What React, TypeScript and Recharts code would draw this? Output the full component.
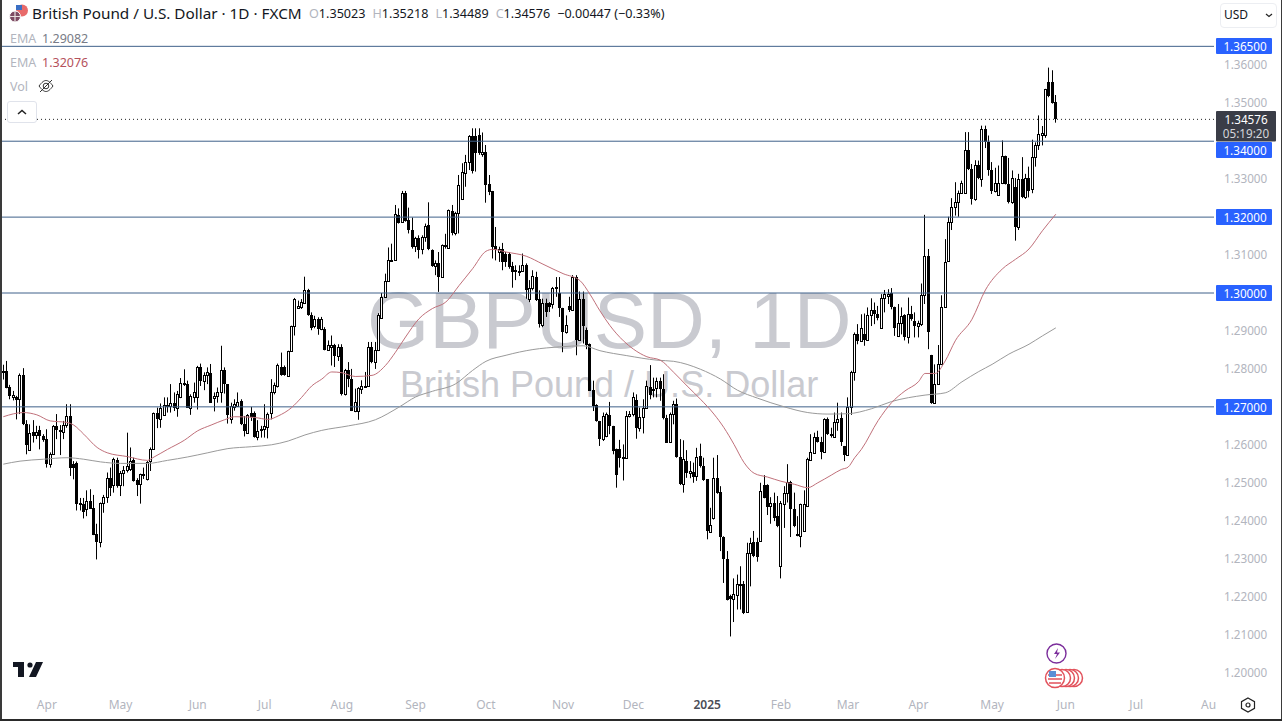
import React from 'react';
import { ComposedChart, Bar, Line, XAxis, YAxis, ReferenceLine } from 'recharts';

const opens = [
1.2795,1.2795,1.2753,1.2727,1.2726,1.2720,1.2784,1.2656,1.2586,1.2633,
1.2627,1.2638,1.2622,1.2615,1.2549,1.2575,1.2649,1.2640,1.2635,1.2652,
1.2675,1.2550,1.2551,1.2443,1.2443,1.2430,1.2452,1.2433,1.2364,1.2344,
1.2446,1.2462,1.2512,1.2494,1.2559,1.2493,1.2527,1.2534,1.2535,1.2559,
1.2506,1.2496,1.2522,1.2509,1.2557,1.2590,1.2683,1.2668,1.2679,1.2703,
1.2703,1.2711,1.2696,1.2726,1.2764,1.2760,1.2698,1.2726,1.2726,1.2804,
1.2767,1.2784,1.2788,1.2723,1.2729,1.2738,1.2798,1.2760,1.2667,1.2700,
1.2703,1.2716,1.2654,1.2632,1.2683,1.2683,1.2621,1.2640,1.2641,1.2648,
1.2683,1.2738,1.2755,1.2806,1.2806,1.2782,1.2848,1.2912,1.2960,1.2964,
1.2974,1.3009,1.2942,1.2912,1.2931,1.2906,1.2906,1.2849,1.2858,1.2862,
1.2833,1.2858,1.2734,1.2796,1.2774,1.2690,1.2690,1.2748,1.2754,1.2756,
1.2858,1.2818,1.2849,1.2935,1.2990,1.3032,1.3086,1.3088,1.3205,1.3188,
1.3264,1.3192,1.3167,1.3123,1.3144,1.3115,1.3148,1.3179,1.3113,1.3071,
1.3079,1.3042,1.3126,1.3119,1.3217,1.3159,1.3211,1.3247,1.3317,1.3346,
1.3415,1.3415,1.3416,1.3365,1.3372,1.3286,1.3269,1.3123,1.3109,1.3115,
1.3104,1.3104,1.3071,1.3060,1.3057,1.3058,1.3073,1.2985,1.3012,1.3041,
1.2985,1.2917,1.2974,1.2974,1.2972,1.3012,1.3000,1.2961,1.2897,1.2965,
1.2956,1.3041,1.2876,1.2984,1.2902,1.2865,1.2744,1.2704,1.2663,1.2615,
1.2624,1.2678,1.2650,1.2588,1.2588,1.2566,1.2566,1.2676,1.2681,1.2718,
1.2645,1.2672,1.2698,1.2753,1.2747,1.2749,1.2769,1.2747,1.2670,1.2608,
1.2681,1.2707,1.2569,1.2498,1.2557,1.2527,1.2528,1.2518,1.2571,1.2544,
1.2509,1.2371,1.2406,1.2512,1.2476,1.2357,1.2300,1.2201,1.2195,1.2205,
1.2230,1.2234,1.2160,1.2314,1.2344,1.2344,1.2346,1.2494,1.2494,1.2439,
1.2447,1.2412,1.2280,1.2445,1.2474,1.2503,1.2430,1.2366,1.2361,1.2373,
1.2439,1.2560,1.2579,1.2621,1.2608,1.2582,1.2667,1.2628,1.2621,1.2659,
1.2670,1.2597,1.2573,1.2700,1.2791,1.2891,1.2874,1.2893,1.2875,1.2942,
1.2955,1.2944,1.2909,1.2988,1.2992,1.3000,1.2964,1.2887,1.2920,1.2942,
1.2884,1.2944,1.2925,1.2913,1.2918,1.2994,1.3098,1.2837,1.2711,1.2761,
1.2812,1.2964,1.3085,1.3186,1.3226,1.3240,1.3263,1.3263,1.3377,1.3327,
1.3248,1.3338,1.3301,1.3433,1.3397,1.3324,1.3268,1.3258,1.3290,1.3360,
1.3287,1.3239,1.3279,1.3173,1.3301,1.3252,1.3303,1.3274,1.3358,1.3391,
1.3417,1.3417,1.3556,1.3556,1.35023];

const closes = [
1.2790,1.2751,1.2729,1.2732,1.2719,1.2784,1.2656,1.2599,1.2632,1.2624,
1.2633,1.2622,1.2612,1.2549,1.2575,1.2650,1.2638,1.2635,1.2652,1.2675,
1.2538,1.2538,1.2443,1.2447,1.2424,1.2452,1.2432,1.2362,1.2344,1.2446,
1.2462,1.2512,1.2485,1.2562,1.2491,1.2527,1.2534,1.2544,1.2557,1.2505,
1.2494,1.2522,1.2524,1.2556,1.2590,1.2683,1.2667,1.2698,1.2704,1.2705,
1.2709,1.2696,1.2733,1.2764,1.2758,1.2698,1.2729,1.2738,1.2804,1.2767,
1.2784,1.2791,1.2711,1.2729,1.2738,1.2798,1.2760,1.2679,1.2703,1.2707,
1.2714,1.2654,1.2637,1.2678,1.2674,1.2621,1.2637,1.2642,1.2650,1.2682,
1.2738,1.2757,1.2811,1.2784,1.2784,1.2848,1.2912,1.2984,1.2966,1.2975,
1.3009,1.2942,1.2909,1.2931,1.2905,1.2931,1.2851,1.2862,1.2862,1.2833,
1.2858,1.2734,1.2796,1.2774,1.2690,1.2712,1.2749,1.2756,1.2756,1.2858,
1.2818,1.2849,1.2941,1.2990,1.3032,1.3086,1.3088,1.3207,1.3185,1.3264,
1.3189,1.3167,1.3122,1.3144,1.3113,1.3148,1.3176,1.3115,1.3071,1.3079,
1.3042,1.3126,1.3121,1.3218,1.3159,1.3211,1.3284,1.3320,1.3346,1.3415,
1.3322,1.3368,1.3368,1.3372,1.3284,1.3267,1.3122,1.3113,1.3115,1.3082,
1.3082,1.3069,1.3056,1.3057,1.3059,1.3073,1.3007,1.3012,1.3044,1.2981,
1.2919,1.2974,1.2950,1.2963,1.3014,1.3016,1.2961,1.2897,1.2915,1.2954,
1.3041,1.2875,1.2984,1.2914,1.2864,1.2742,1.2703,1.2663,1.2615,1.2676,
1.2680,1.2650,1.2584,1.2520,1.2564,1.2568,1.2676,1.2681,1.2725,1.2645,
1.2672,1.2698,1.2754,1.2732,1.2741,1.2769,1.2747,1.2670,1.2606,1.2681,
1.2707,1.2569,1.2496,1.2562,1.2527,1.2530,1.2516,1.2568,1.2544,1.2506,
1.2373,1.2390,1.2512,1.2474,1.2357,1.2300,1.2192,1.2194,1.2207,1.2232,
1.2233,1.2157,1.2314,1.2342,1.2307,1.2304,1.2478,1.2461,1.2436,1.2447,
1.2408,1.2386,1.2447,1.2474,1.2503,1.2430,1.2386,1.2361,1.2443,1.2443,
1.2562,1.2582,1.2621,1.2608,1.2582,1.2667,1.2628,1.2624,1.2659,1.2667,
1.2608,1.2573,1.2700,1.2791,1.2892,1.2874,1.2907,1.2875,1.2942,1.2955,
1.2944,1.2934,1.2988,1.2997,1.2997,1.2962,1.2909,1.2920,1.2940,1.2884,
1.2944,1.2931,1.2913,1.2920,1.2994,1.3098,1.2896,1.2711,1.2761,1.2812,
1.2964,1.3082,1.3186,1.3226,1.3240,1.3263,1.3290,1.3377,1.3327,1.3248,
1.3338,1.3302,1.3433,1.3397,1.3325,1.3268,1.3289,1.3290,1.3360,1.3287,
1.3239,1.3303,1.3173,1.3301,1.3252,1.3303,1.3270,1.3358,1.3391,1.3419,
1.3421,1.3538,1.3518,1.3502,1.34576];

const highs = [
1.2811,1.2821,1.2758,1.2742,1.2729,1.2788,1.2802,1.2665,1.2654,1.2665,
1.2650,1.2650,1.2628,1.2641,1.2580,1.2652,1.2681,1.2652,1.2663,1.2707,
1.2707,1.2557,1.2556,1.2460,1.2460,1.2480,1.2483,1.2468,1.2392,1.2448,
1.2468,1.2527,1.2540,1.2566,1.2566,1.2531,1.2544,1.2632,1.2593,1.2566,
1.2512,1.2524,1.2540,1.2557,1.2593,1.2685,1.2698,1.2709,1.2725,1.2725,
1.2760,1.2738,1.2742,1.2776,1.2799,1.2769,1.2733,1.2764,1.2808,1.2814,
1.2791,1.2804,1.2813,1.2738,1.2751,1.2861,1.2804,1.2760,1.2711,1.2720,
1.2738,1.2720,1.2676,1.2681,1.2700,1.2688,1.2665,1.2650,1.2707,1.2685,
1.2773,1.2764,1.2814,1.2843,1.2809,1.2848,1.2914,1.2987,1.2980,1.2984,
1.3043,1.3011,1.2949,1.2940,1.2936,1.2937,1.2910,1.2875,1.2888,1.2866,
1.2865,1.2865,1.2800,1.2818,1.2800,1.2748,1.2752,1.2770,1.2792,1.2871,
1.2871,1.2871,1.2947,1.3000,1.3051,1.3120,1.3130,1.3232,1.3223,1.3269,
1.3269,1.3225,1.3199,1.3148,1.3152,1.3152,1.3183,1.3239,1.3115,1.3086,
1.3108,1.3128,1.3156,1.3220,1.3232,1.3214,1.3311,1.3342,1.3364,1.3416,
1.3434,1.3434,1.3434,1.3423,1.3390,1.3311,1.3269,1.3174,1.3122,1.3132,
1.3108,1.3108,1.3082,1.3073,1.3073,1.3104,1.3078,1.3034,1.3060,1.3056,
1.3007,1.2985,1.2985,1.2976,1.3016,1.3042,1.3042,1.2961,1.2941,1.2990,
1.3047,1.3047,1.3004,1.3004,1.2909,1.2867,1.2769,1.2707,1.2663,1.2685,
1.2685,1.2713,1.2650,1.2590,1.2613,1.2601,1.2689,1.2689,1.2738,1.2733,
1.2698,1.2720,1.2769,1.2810,1.2777,1.2777,1.2777,1.2786,1.2679,1.2685,
1.2716,1.2722,1.2615,1.2612,1.2586,1.2557,1.2553,1.2592,1.2603,1.2566,
1.2509,1.2434,1.2566,1.2573,1.2491,1.2359,1.2320,1.2205,1.2248,1.2258,
1.2280,1.2241,1.2342,1.2355,1.2373,1.2355,1.2500,1.2520,1.2496,1.2462,
1.2474,1.2465,1.2452,1.2491,1.2549,1.2505,1.2474,1.2412,1.2445,1.2480,
1.2566,1.2628,1.2632,1.2637,1.2621,1.2670,1.2672,1.2645,1.2685,1.2711,
1.2685,1.2597,1.2725,1.2795,1.2896,1.2918,1.2944,1.2946,1.2962,1.2986,
1.2975,1.2966,1.2997,1.3008,1.3010,1.3013,1.2964,1.2971,1.2962,1.2944,
1.2988,1.2966,1.2949,1.2927,1.3025,1.3206,1.3116,1.2837,1.2812,1.2863,
1.2994,1.3142,1.3201,1.3250,1.3292,1.3270,1.3296,1.3424,1.3424,1.3340,
1.3350,1.3349,1.3441,1.3441,1.3415,1.3345,1.3330,1.3336,1.3402,1.3362,
1.3356,1.3323,1.3303,1.3314,1.3358,1.3314,1.3333,1.3404,1.3397,1.3468,
1.3440,1.3538,1.3594,1.3587,1.35218];

const lows = [
1.2772,1.2749,1.2720,1.2717,1.2667,1.2681,1.2652,1.2575,1.2586,1.2606,
1.2615,1.2588,1.2608,1.2540,1.2540,1.2573,1.2615,1.2573,1.2615,1.2645,
1.2518,1.2509,1.2427,1.2427,1.2406,1.2412,1.2431,1.2362,1.2298,1.2330,
1.2421,1.2447,1.2465,1.2474,1.2487,1.2465,1.2491,1.2527,1.2531,1.2503,
1.2465,1.2445,1.2510,1.2506,1.2531,1.2588,1.2644,1.2645,1.2677,1.2685,
1.2685,1.2689,1.2674,1.2723,1.2755,1.2698,1.2679,1.2711,1.2693,1.2755,
1.2744,1.2760,1.2711,1.2688,1.2711,1.2711,1.2735,1.2656,1.2656,1.2690,
1.2700,1.2652,1.2622,1.2630,1.2663,1.2619,1.2612,1.2619,1.2619,1.2617,
1.2667,1.2733,1.2751,1.2782,1.2782,1.2779,1.2845,1.2888,1.2960,1.2958,
1.2971,1.2940,1.2902,1.2907,1.2890,1.2902,1.2849,1.2849,1.2809,1.2805,
1.2821,1.2730,1.2730,1.2752,1.2689,1.2686,1.2666,1.2734,1.2752,1.2754,
1.2815,1.2800,1.2847,1.2932,1.2987,1.3029,1.3086,1.3086,1.3183,1.3185,
1.3188,1.3157,1.3117,1.3108,1.3091,1.3102,1.3135,1.3113,1.3069,1.3047,
1.3003,1.3041,1.3117,1.3117,1.3152,1.3152,1.3157,1.3245,1.3280,1.3324,
1.3315,1.3320,1.3364,1.3359,1.3238,1.3258,1.3091,1.3086,1.3082,1.3060,
1.3069,1.3064,1.3014,1.3034,1.3045,1.3056,1.2985,1.2976,1.3007,1.2979,
1.2909,1.2910,1.2937,1.2950,1.2959,1.2990,1.2937,1.2844,1.2893,1.2950,
1.2953,1.2836,1.2874,1.2867,1.2852,1.2742,1.2689,1.2661,1.2597,1.2610,
1.2620,1.2628,1.2575,1.2487,1.2540,1.2506,1.2566,1.2672,1.2675,1.2616,
1.2635,1.2630,1.2696,1.2720,1.2725,1.2725,1.2716,1.2667,1.2606,1.2608,
1.2654,1.2566,1.2494,1.2474,1.2513,1.2512,1.2500,1.2505,1.2540,1.2505,
1.2351,1.2368,1.2403,1.2471,1.2320,1.2236,1.2190,1.2095,1.2133,1.2166,
1.2166,1.2154,1.2157,1.2227,1.2304,1.2292,1.2344,1.2459,1.2415,1.2392,
1.2399,1.2383,1.2248,1.2381,1.2448,1.2357,1.2383,1.2359,1.2330,1.2371,
1.2436,1.2559,1.2577,1.2606,1.2562,1.2579,1.2626,1.2619,1.2619,1.2637,
1.2597,1.2557,1.2573,1.2679,1.2769,1.2865,1.2872,1.2861,1.2874,1.2913,
1.2918,1.2928,1.2907,1.2949,1.2971,1.2957,1.2887,1.2884,1.2891,1.2875,
1.2867,1.2927,1.2883,1.2883,1.2913,1.2971,1.2852,1.2708,1.2708,1.2759,
1.2810,1.2962,1.3083,1.3166,1.3204,1.3201,1.3261,1.3261,1.3324,1.3233,
1.3243,1.3300,1.3280,1.3382,1.3309,1.3261,1.3265,1.3257,1.3287,1.3286,
1.3236,1.3235,1.3138,1.3166,1.3250,1.3248,1.3252,1.3263,1.3333,1.3377,
1.3389,1.3409,1.3516,1.3499,1.34489];

const ema50Bars = [0,6,10,14,19,21,24,28,31,37,43,45,49,54,58,62,66,69,75,79,82,86,89,92,95,98,101,105,110,114,117,120,124,128,132,136,140,144,146,150,156,161,167,172,175,178,181,185,188,192,196,200,204,208,212,215,218,221,224,228,232,236,240,243,247,250,252,254,256,261,265,269,273,275,278,281,284,289,293,298,302,306,310,314];
const ema50Values = [1.2674,1.2685,1.2679,1.2663,1.2659,1.2652,1.2628,1.2593,1.2579,1.2569,1.2559,1.2568,1.2588,1.2612,1.2637,1.2652,1.2666,1.2674,1.2672,1.2667,1.2676,1.2698,1.2725,1.2755,1.2773,1.2792,1.2790,1.2780,1.2783,1.2809,1.2844,1.2884,1.2932,1.2959,1.2976,1.3020,1.3064,1.3110,1.3115,1.3108,1.3097,1.3076,1.3051,1.3033,1.2997,1.2953,1.2914,1.2874,1.2852,1.2832,1.2823,1.2791,1.2755,1.2720,1.2681,1.2645,1.2601,1.2553,1.2525,1.2515,1.2504,1.2496,1.2487,1.2500,1.2520,1.2535,1.2541,1.2566,1.2588,1.2664,1.2711,1.2742,1.2766,1.2788,1.2788,1.2821,1.2874,1.2931,1.3008,1.3063,1.3089,1.3116,1.3164,1.32076];
const ema200Bars = [0,5,12,19,24,29,35,43,49,55,61,67,74,80,85,90,95,103,111,118,123,128,135,140,144,150,158,166,173,178,186,195,200,208,214,219,225,233,240,246,252,259,265,275,281,286,291,295,300,306,310,314];
const ema200Values = [1.2549,1.2557,1.2562,1.2566,1.2562,1.2555,1.2551,1.2551,1.2559,1.2568,1.2579,1.2590,1.2595,1.2600,1.2610,1.2626,1.2638,1.2650,1.2666,1.2699,1.2726,1.2741,1.2761,1.2796,1.2820,1.2836,1.2851,1.2858,1.2861,1.2848,1.2835,1.2823,1.2820,1.2799,1.2773,1.2744,1.2723,1.2700,1.2685,1.2681,1.2682,1.2695,1.2714,1.2731,1.2737,1.2766,1.2793,1.2812,1.2839,1.2865,1.2887,1.29082];

const priceTicks = [1.2,1.21,1.22,1.23,1.24,1.25,1.26,1.28,1.29,1.31,1.33,1.35,1.36];
const levels = [1.365,1.34,1.32,1.3,1.27];
const lastPrice = 1.34576;
const countdown = '05:19:20';
const monthBars = [13,35,58,78,101,123,144,167,188,210,232,252,273,295,317,338,359.6];
const monthLabels = ['Apr','May','Jun','Jul','Aug','Sep','Oct','Nov','Dec','2025','Feb','Mar','Apr','May','Jun','Jul','Au'];

const rows = opens.map((open, i) => {
  const a = ema50Bars.indexOf(i);
  const b = ema200Bars.indexOf(i);
  return {
    i, open, close: closes[i], high: highs[i], low: lows[i],
    ema50: a >= 0 ? ema50Values[a] : null,
    ema200: b >= 0 ? ema200Values[b] : null,
  };
});

const UI = '"Noto Sans", sans-serif';

const Candle = (props: any) => {
  const { x, y, width, height, payload } = props;
  if (x == null || !height) return null;
  const cx = Math.floor(x + width / 2) + 0.5;
  const k = height / (payload.high - payload.low);
  const top = Math.round(y + (payload.high - Math.max(payload.open, payload.close)) * k);
  const bot = Math.round(y + (payload.high - Math.min(payload.open, payload.close)) * k);
  const up = payload.close >= payload.open;
  return (
    <g>
      <rect x={cx - 0.5} y={y} width={1} height={height} fill="#000" />
      {up ? (
        <rect x={cx - 1} y={top + 0.5} width={2} height={Math.max(bot - top, 1)} fill="#fff" stroke="#000" strokeWidth={1} />
      ) : (
        <rect x={cx - 1.5} y={top} width={3} height={Math.max(bot - top, 2)} fill="#000" />
      )}
    </g>
  );
};

const LevelTag = (v: number, shift: number) => (p: any) => {
  const vb = p.viewBox || {};
  const cy = vb.y + shift;
  return (
    <g>
      <rect x={1216} y={Math.round(cy) - 8} width={56} height={16} rx={1} fill="#2962ff" />
      <text x={1245} y={Math.round(cy) + 4.5} textAnchor="middle" fontFamily={UI} fontSize={11.7} fill="#fff">{v.toFixed(5)}</text>
    </g>
  );
};

const LastTag = (p: any) => {
  const vb = p.viewBox || {};
  const t = Math.round(vb.y) - 8;
  return (
    <g>
      <rect x={1216} y={t} width={60} height={30.5} rx={1} fill="#3a3d47" />
      <text x={1246} y={t + 13} textAnchor="middle" fontFamily={UI} fontSize={11.7} fill="#fff">{lastPrice.toFixed(5)}</text>
      <text x={1246} y={t + 27} textAnchor="middle" fontFamily={UI} fontSize={11.7} fill="#d5d6da">{countdown}</text>
    </g>
  );
};

const MonthTick = (p: any) => {
  const idx = monthBars.indexOf(p.payload.value);
  const label = monthLabels[idx];
  const strong = label === '2025';
  return (
    <text x={p.x} y={709} textAnchor="middle" fontFamily={UI} fontSize={12} fontWeight={strong ? 600 : 400} fill={strong ? '#4a4d57' : '#b2b5be'}>{label}</text>
  );
};

const abs = (left: number, top: number, extra: any = {}) => ({ position: 'absolute' as const, left, top, whiteSpace: 'nowrap' as const, fontFamily: UI, lineHeight: 1, ...extra });

export default function App() {
  return (
    <div style={{ position: 'absolute', left: 0, top: 0, width: 1282, height: 721, background: '#fff', overflow: 'hidden' }}>
      <div style={abs(367, 281, { fontFamily: '"Liberation Sans", Arial, sans-serif', fontSize: 80, color: '#c9cad0' })}>GBPUSD, 1D</div>
      <div style={abs(400, 367, { fontFamily: '"Liberation Sans", Arial, sans-serif', fontSize: 36, color: '#c9cad0' })}>British Pound / U.S. Dollar</div>

      <div style={{ position: 'absolute', left: 0, top: 0 }}>
        <ComposedChart width={1282} height={721} data={rows} margin={{ top: 0, right: 0, bottom: 0, left: 0 }}>
          <XAxis dataKey="i" type="number" domain={[-0.984, 361.19]} allowDataOverflow ticks={monthBars} interval={0} axisLine={false} tickLine={false} height={31} tick={<MonthTick />} />
          <YAxis orientation="right" width={68} type="number" domain={[1.19539, 1.37721]} allowDataOverflow ticks={priceTicks} interval={0} axisLine={false} tickLine={false} tickMargin={4}
            tick={{ fill: '#b2b5be', fontSize: 11.7, fontFamily: UI }} tickFormatter={(v: number) => v.toFixed(5)} />
          {levels.map((v) => (
            <ReferenceLine key={v} y={v} stroke="#3f618a" strokeWidth={1} label={LevelTag(v, v === 1.34 ? 9 : 0)} />
          ))}
          <ReferenceLine y={lastPrice} stroke="#222" strokeWidth={1} strokeDasharray="1 3" label={LastTag} />
          <Line dataKey="ema200" type="monotone" stroke="#9a9a9a" strokeWidth={1} dot={false} connectNulls isAnimationActive={false} />
          <Line dataKey="ema50" type="monotone" stroke="#c0707a" strokeWidth={1} dot={false} connectNulls isAnimationActive={false} />
          <Bar dataKey={(d: any) => [d.low, d.high]} barSize={3} shape={<Candle />} isAnimationActive={false} />
        </ComposedChart>
      </div>

      {/* header */}
      <svg style={{ position: 'absolute', left: 0, top: 0 }} width={40} height={30}>
        <circle cx={22} cy={10.5} r={6} fill="#e86a6a" />
        <rect x={16} y={5} width={6} height={5} fill="#3a6fc4" />
        <circle cx={15} cy={16.5} r={5.5} fill="#7c4a62" stroke="#fff" strokeWidth={1} />
        <path d="M10 16.5h10M15 11v11" stroke="#e8dede" strokeWidth={1.2} />
      </svg>
      <div style={abs(32, 6, { fontSize: 15.3, color: '#131722' })}>British Pound / U.S. Dollar · 1D · FXCM</div>
      <div style={abs(309, 8, { fontSize: 12.6, color: '#131722' })}>
        <span style={{ color: '#b2b5be' }}>O</span>1.35023<span style={{ marginLeft: 7, color: '#b2b5be' }}>H</span>1.35218<span style={{ marginLeft: 7, color: '#b2b5be' }}>L</span>1.34489<span style={{ marginLeft: 7, color: '#b2b5be' }}>C</span>1.34576<span style={{ marginLeft: 7 }}>−0.00447 (−0.33%)</span>
      </div>
      <div style={abs(10, 33, { fontSize: 12.5, color: '#b2b5be' })}>EMA</div>
      <div style={abs(42, 33, { fontSize: 12.5, color: '#787b86' })}>1.29082</div>
      <div style={abs(10, 57, { fontSize: 12.5, color: '#b2b5be' })}>EMA</div>
      <div style={abs(42, 57, { fontSize: 12.5, color: '#b5525c' })}>1.32076</div>
      <div style={abs(10, 81, { fontSize: 12.5, color: '#b2b5be' })}>Vol</div>
      <svg style={{ position: 'absolute', left: 36, top: 76 }} width={20} height={20}>
        <path d="M3 10c3-4 5-5.5 7-5.5s4 1.5 7 5.5c-3 4-5 5.5-7 5.5S6 14 3 10z" fill="none" stroke="#333" strokeWidth={1} />
        <circle cx={10} cy={10} r={2.8} fill="none" stroke="#333" strokeWidth={1} />
        <path d="M4 16L16 4" stroke="#333" strokeWidth={1} />
      </svg>
      <div style={{ position: 'absolute', left: 7, top: 101, width: 28, height: 20, background: '#fff', border: '1px solid #e0e3eb', borderRadius: 3 }} />
      <svg style={{ position: 'absolute', left: 7, top: 101 }} width={30} height={22}>
        <path d="M11 13l4-3.5 4 3.5" fill="none" stroke="#222" strokeWidth={1.5} />
      </svg>

      {/* USD selector */}
      <div style={{ position: 'absolute', left: 1220, top: 3, width: 55, height: 23, background: '#fff', border: '1px solid #eceef2', borderRadius: 4 }} />
      <div style={abs(1224, 9, { fontSize: 12, color: '#131722' })}>USD</div>
      <svg style={{ position: 'absolute', left: 1264, top: 10 }} width={10} height={10}>
        <path d="M2 4l3 2.5L8 4" fill="none" stroke="#222" strokeWidth={1.2} />
      </svg>

      {/* logo, event markers, settings */}
      <svg style={{ position: 'absolute', left: 0, top: 640 }} width={60} height={50}>
        <path d="M13 22h11v15h-6V27h-5z" fill="#131722" />
        <circle cx={30} cy={25} r={2.6} fill="#131722" />
        <path d="M36 22h7l-7 15h-7z" fill="#131722" />
      </svg>
      <svg style={{ position: 'absolute', left: 1040, top: 640 }} width={50} height={52}>
        <circle cx={16.5} cy={13.5} r={9.5} fill="#fff" stroke="#7b2d9b" strokeWidth={1.4} />
        <path d="M18 8l-4 6h3l-2 5 5-6.5h-3z" fill="#7b2d9b" />
        {[34, 30, 26, 22].map((c) => (
          <circle key={c} cx={c} cy={38} r={8.5} fill="#fff" stroke="#e2525c" strokeWidth={1.5} />
        ))}
        <circle cx={15} cy={38} r={9.5} fill="#fff" stroke="#e2525c" strokeWidth={1.5} />
        <path d="M8 35h14M8 39h14M9 43h12" stroke="#e2525c" strokeWidth={1.6} />
        <rect x={9} y={31} width={7} height={6} fill="#5b8fd6" />
      </svg>
      <svg style={{ position: 'absolute', left: 1238, top: 695 }} width={20} height={20}>
        <path d="M10 3l6.5 3.7v6.6L10 17l-6.5-3.7V6.7z" fill="none" stroke="#222" strokeWidth={1.2} />
        <circle cx={10} cy={10} r={2} fill="none" stroke="#222" strokeWidth={1.2} />
      </svg>

      {/* window edges */}
      <div style={{ position: 'absolute', left: 0, top: 0, width: 1.5, height: 721, background: '#3a3a3a' }} />
      <div style={{ position: 'absolute', left: 1281, top: 0, width: 1, height: 721, background: '#3a3a3a' }} />
      <div style={{ position: 'absolute', left: 0, top: 719, width: 1282, height: 2, background: '#2a2a2a' }} />
    </div>
  );
}
